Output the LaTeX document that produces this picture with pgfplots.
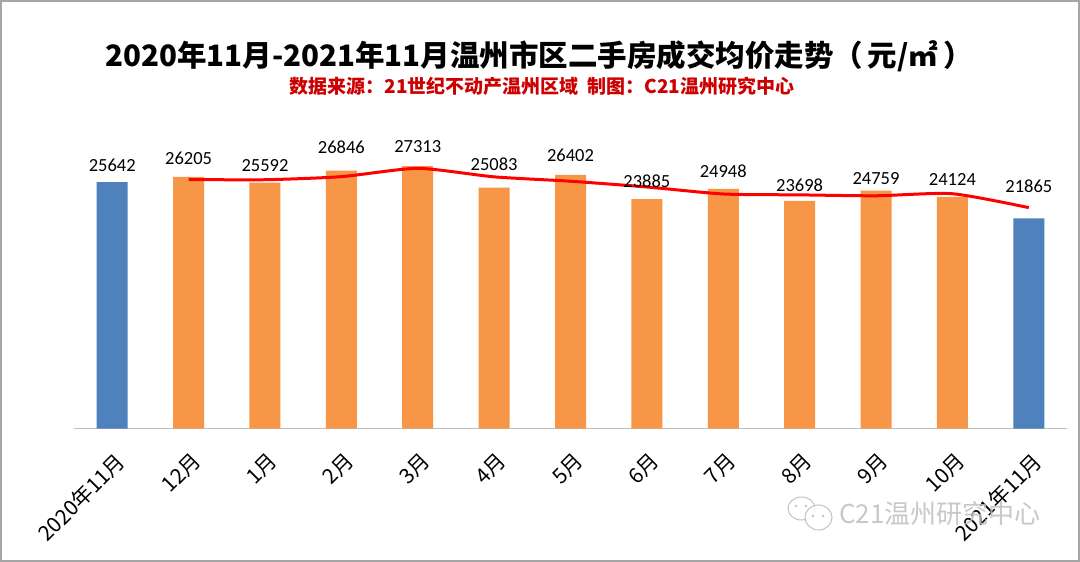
\documentclass[border=0pt]{standalone}
\usepackage{pgfplots}
\pgfplotsset{compat=1.18}
\usepackage{fontspec}
\setmainfont{Carlito}
\newfontfamily\cjk{Noto Sans CJK SC}
\definecolor{barblue}{HTML}{4F81BD}
\definecolor{barorange}{HTML}{F79646}
\definecolor{subred}{HTML}{CC0000}
\definecolor{axisgray}{HTML}{BFBFBF}
\definecolor{framegray}{HTML}{A6A6A6}
\begin{document}
\begin{tikzpicture}[x=1pt,y=1pt]
\draw[framegray, line width=2pt, fill=white] (1,1) rectangle (1079,561);
\node[font=\cjk\bfseries\fontsize{29.5}{32}\selectfont] at (539,506) {2020年11月-2021年11月温州市区二手房成交均价走势（\,元/㎡\,）};
\node[text=subred, font=\cjk\bfseries\fontsize{19}{22}\selectfont] at (542,475.5) {数据来源：21世纪不动产温州区域\ \ 制图：C21温州研究中心};
\begin{axis}[at={(74pt,133.4pt)}, anchor=south west, scale only axis,
  width=993pt, height=307.5pt,
  xmin=-0.5, xmax=12.5, ymin=0, ymax=32000,
  axis x line*=bottom, axis y line=none,
  x axis line style={draw=axisgray, line width=1.5pt},
  xtick={0,...,12},
  xticklabels={2020年11月,12月,1月,2月,3月,4月,5月,6月,7月,8月,9月,10月,2021年11月},
  major tick length=0pt,
  xticklabel style={font=\cjk\fontsize{21}{21}\selectfont, yshift=-22pt, xshift=2pt, rotate=45, anchor=north east, inner sep=0pt},
  ytick=\empty, bar width=31pt, clip=false]
\addplot[ybar, bar shift=0pt, fill=barblue, draw=none] coordinates {(0,25642) (12,21865)};
\addplot[ybar, bar shift=0pt, fill=barorange, draw=none] coordinates {(1,26205) (2,25592) (3,26846) (4,27313) (5,25083) (6,26402) (7,23885) (8,24948) (9,23698) (10,24759) (11,24124)};
\addplot[red, line width=3pt, smooth, tension=0.4] coordinates {(1,25923) (2,25898) (3,26219) (4,27080) (5,26198) (6,25742) (7,25143) (8,24416) (9,24323) (10,24228) (11,24441) (12,22994)};
\addplot[draw=none, mark=none, nodes near coords, point meta=explicit symbolic,
  nodes near coords style={font=\fontsize{18.5}{18.5}\selectfont, anchor=center, text=black}]
  table[meta=lab] {
x y lab
0 27430 25642
1 28127 26205
2 27357 25592
3 29272 26846
4 29334 27313
5 27503 25083
6 28398 26402
7 25692 23885
8 26733 24948
9 25349 23698
10 25973 24759
11 25973 24124
12 25172 21865
};
\end{axis}
\begin{scope}[opacity=0.85]
\draw[gray!55, line width=1pt, fill=white] (801.5,53.5) ellipse (13.5 and 11.5);
\draw[gray!55, line width=1pt, fill=white] (818.5,44.5) ellipse (13.5 and 12.5);
\fill[gray!55] (796,56) circle (1.3) (806,56) circle (1.3) (813,46) circle (1.3) (823,46) circle (1.3);
\node[text=gray!50, font=\cjk\fontsize{26}{26}\selectfont] at (940,48) {C21温州研究中心};
\end{scope}
\end{tikzpicture}
\end{document}
